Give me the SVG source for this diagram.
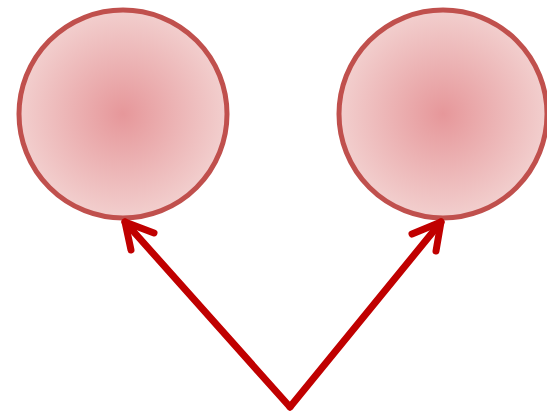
<svg xmlns="http://www.w3.org/2000/svg" width="547" height="412" viewBox="0 0 547 412">
<defs>
<radialGradient id="g" cx="0.5" cy="0.5" r="0.5">
<stop offset="0" stop-color="#e6979a"/>
<stop offset="1" stop-color="#f2cfce"/>
</radialGradient>
<style>
.node{fill:url(#g);stroke:#c0504d;stroke-width:5}
.edge{fill:none;stroke:#c00000;stroke-width:7;stroke-linecap:round;stroke-linejoin:round}
</style>
</defs>
<g id="node1"><circle class="node" cx="123" cy="114" r="104"/></g>
<g id="node2"><circle class="node" cx="443" cy="114" r="104"/></g>
<g id="connectors">
<path class="edge" d="M290,407 L125,222"/>
<path class="edge" d="M131,250 L125,222 L154,233"/>
<path class="edge" d="M290,407 L441,222"/>
<path class="edge" d="M412,234 L441,222 L436,251"/>
</g>
</svg>
